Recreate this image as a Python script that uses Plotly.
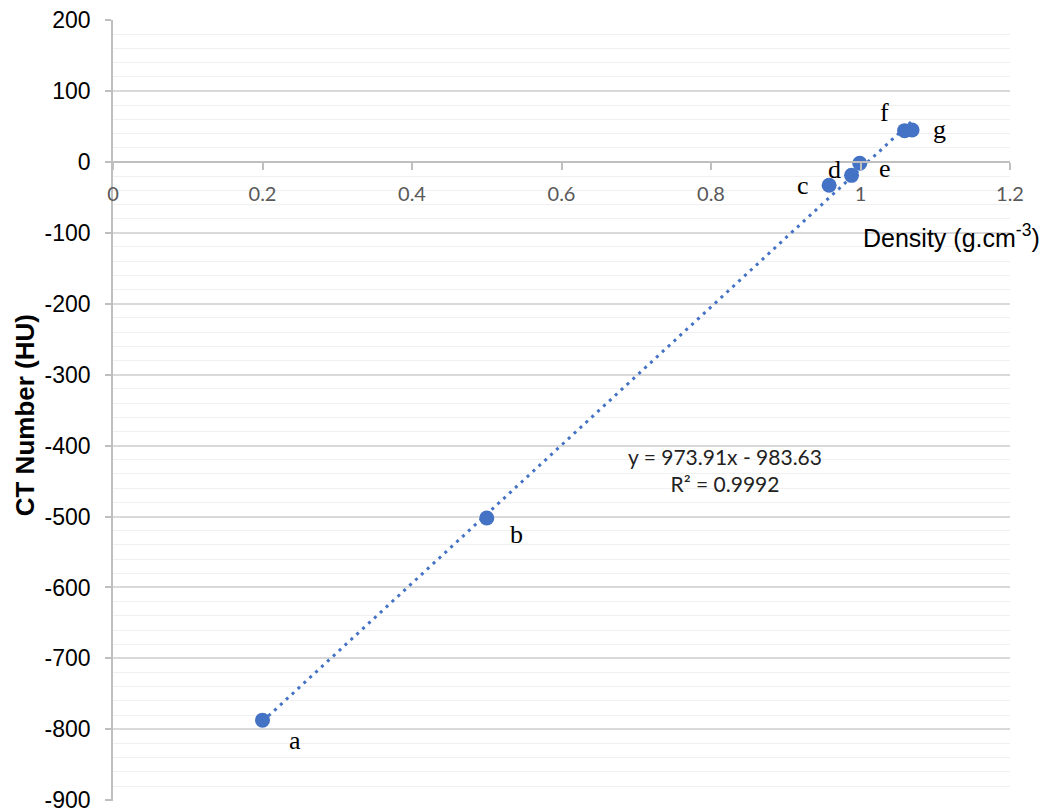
import plotly.graph_objects as go

# Data
labels = ["a", "b", "c", "d", "e", "f", "g"]
density = [0.20, 0.50, 0.958, 0.988, 0.999, 1.059, 1.069]
ct_number = [-787, -502, -33, -19, -2, 44, 45]

SLOPE = 973.91
INTERCEPT = -983.63
R2 = 0.9992

x_ticks = [0, 0.2, 0.4, 0.6, 0.8, 1.0, 1.2]
x_tick_text = ["0", "0.2", "0.4", "0.6", "0.8", "1", "1.2"]
y_ticks = list(range(-900, 201, 100))
y_tick_text = [str(v) for v in y_ticks]

# label offsets in pixels (style)
label_offsets = {
    "a": (32, -20), "b": (30, -17), "c": (-26, 0), "d": (-17, 6),
    "e": (25, -5), "f": (-20, 18), "g": (27, 0),
}

BLUE = "#4472C4"

fig = go.Figure()

x0, x1 = min(density), max(density)
fig.add_trace(go.Scatter(
    x=[x0, x1], y=[SLOPE * x0 + INTERCEPT, SLOPE * x1 + INTERCEPT],
    mode="lines", line=dict(color=BLUE, width=3, dash="3px,5px"),
    hoverinfo="skip", showlegend=False,
))
fig.add_trace(go.Scatter(
    x=density, y=ct_number, mode="markers",
    marker=dict(color=BLUE, size=15, line=dict(width=0)),
    showlegend=False,
))

for lab, xv, yv in zip(labels, density, ct_number):
    dx, dy = label_offsets[lab]
    fig.add_annotation(
        x=xv, y=yv, xref="x", yref="y", text=lab, showarrow=False,
        xshift=dx, yshift=dy,
        font=dict(family="Liberation Serif", size=26, color="#000000"),
    )

fig.add_annotation(
    x=0.819, y=-435, xref="x", yref="y", showarrow=False,
    text=f"y = {SLOPE}x - {abs(INTERCEPT)}<br>R² = {R2}",
    align="center",
    font=dict(family="Lato", size=21, color="#222222"),
)

fig.add_annotation(
    x=1.036, y=0.724, xref="paper", yref="paper", xanchor="right",
    yanchor="middle", showarrow=False,
    text="Density (g.cm<sup>-3</sup>)",
    font=dict(family="Liberation Sans, Arial", size=25, color="#000000"),
)
fig.add_annotation(
    x=-0.098, y=0.494, xref="paper", yref="paper", textangle=-90,
    xanchor="center", yanchor="middle", showarrow=False,
    text="<b>CT Number (HU)</b>",
    font=dict(family="Liberation Sans, Arial", size=26, color="#000000"),
)

fig.update_layout(
    width=1047, height=812,
    margin=dict(l=113, r=37, t=20, b=11, autoexpand=False),
    paper_bgcolor="white", plot_bgcolor="white",
    xaxis=dict(
        range=[0, 1.2], tickvals=x_ticks, ticktext=x_tick_text,
        showgrid=False, zeroline=False, automargin=False,
        showline=True, linecolor="#bfbfbf", linewidth=1.5,
        anchor="free", position=901 / 1101,
        ticks="outside", ticklen=7, tickcolor="#bfbfbf", tickwidth=1.5,
        ticklabelstandoff=7, ticklabeloverflow="allow",
        tickfont=dict(family="Lato", size=20, color="#595959"),
    ),
    yaxis=dict(
        range=[-901, 200], tickvals=y_ticks, ticktext=y_tick_text,
        showgrid=True, gridcolor="#d9d9d9", gridwidth=1.5,
        minor=dict(tickvals=[v for v in range(-880, 200, 20) if v % 100 != 0],
                   showgrid=True, gridcolor="#f0f0f0", gridwidth=1),
        zeroline=False, automargin=False,
        showline=True, linecolor="#bfbfbf", linewidth=1.5,
        ticks="outside", ticklen=6, tickcolor="#bfbfbf", tickwidth=1.5,
        ticklabelstandoff=10, ticklabeloverflow="allow",
        tickfont=dict(family="Liberation Sans, Arial", size=23, color="#000000"),
    ),
)

fig.write_html(
    "out.html",
    config={"displayModeBar": False},
    post_script="document.body.style.margin='0';document.body.style.overflow='hidden';",
)
